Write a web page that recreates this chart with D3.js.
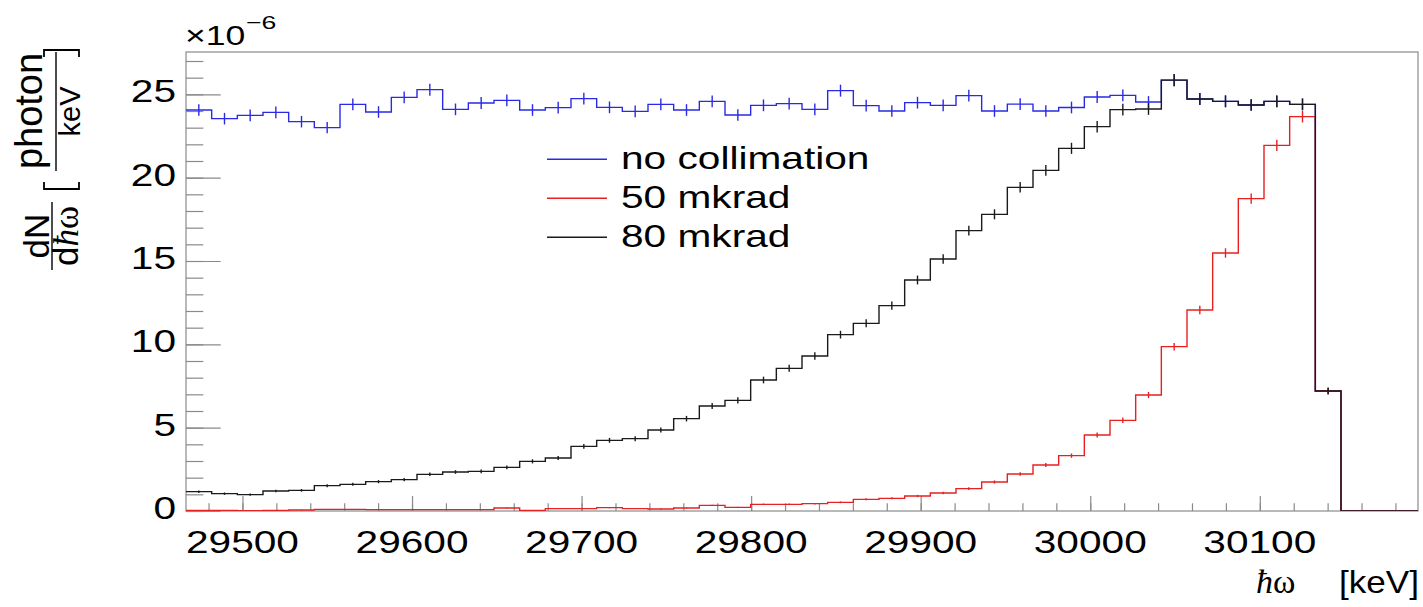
<!DOCTYPE html>
<html>
<head>
<meta charset="utf-8">
<script src="https://cdn.jsdelivr.net/npm/d3@7/dist/d3.min.js"></script>
<style>
  html, body { margin: 0; padding: 0; background: #fff; }
  svg { display: block; }
  text { font-family: "Liberation Sans", Arial, Helvetica, sans-serif; fill: #000; }
</style>
</head>
<body>
<svg id="chart" width="1423" height="607"></svg>
<script>
// ---- data (values in units of 1e-6 photon/keV) ----
const histRange = [29466.7, 30193.3];   // histogram x range [keV]
const nBins = 48;
const noCollimation = [24.06, 23.54, 23.74, 23.92, 23.36, 23.0, 24.4, 23.94, 24.82, 25.28,
  24.1, 24.48, 24.64, 24.06, 24.2, 24.74, 24.22, 23.98, 24.4, 24.06,
  24.58, 23.76, 24.34, 24.44, 24.1, 25.22, 24.32, 24.0, 24.5, 24.34,
  24.92, 24.0, 24.41, 24.0, 24.21, 24.84, 24.94, 24.54, 25.85, 24.72,
  24.58, 24.36, 24.58, 24.4, 7.2, 0, 0, 0];
const mkrad50 = [0.04, 0.04, 0.02, 0.04, 0.06, 0.1, 0.1, 0.08, 0.08, 0.08,
  0.08, 0.08, 0.18, 0.04, 0.14, 0.14, 0.2, 0.14, 0.12, 0.18,
  0.34, 0.22, 0.4, 0.4, 0.44, 0.52, 0.7, 0.76, 0.9, 1.08,
  1.34, 1.74, 2.22, 2.76, 3.32, 4.56, 5.44, 6.96, 9.86, 12.06,
  15.48, 18.74, 21.94, 23.66, 7.2, 0, 0, 0];
const mkrad80 = [1.16, 1.04, 0.98, 1.2, 1.24, 1.52, 1.6, 1.76, 1.88, 2.2,
  2.34, 2.38, 2.62, 2.98, 3.18, 3.88, 4.24, 4.34, 4.86, 5.54,
  6.3, 6.64, 7.86, 8.56, 9.3, 10.58, 11.26, 12.32, 13.86, 15.12,
  16.82, 17.8, 19.42, 20.44, 21.76, 23.06, 24.08, 24.12, 25.85, 24.72,
  24.58, 24.36, 24.58, 24.4, 7.2, 0, 0, 0];
const seriesNames = ["no collimation", "50 mkrad", "80 mkrad"];
const seriesColors = ["#2a2ae6", "#e82020", "#1a1a1a"];
const errScale = 0.0714;                 // statistical error ~ errScale*sqrt(content)
const xTicks = [29500, 29600, 29700, 29800, 29900, 30000, 30100];
const yTicks = [0, 5, 10, 15, 20, 25];
const yMax = 27.54;

// ---- layout ----
const svg = d3.select("#chart");
const L = 186, R = 1418, T = 52, B = 511;
const SX = 1.27; // horizontal stretch of glyphs
const x = d3.scaleLinear().domain(histRange).range([L, R]);
const y = d3.scaleLinear().domain([0, yMax]).range([B, T]);
const binW = (histRange[1] - histRange[0]) / nBins;
const edges = d3.range(nBins + 1).map(i => histRange[0] + i * binW);

const axisColor = "#8a8a8a";

// frame
svg.append("rect").attr("x", L).attr("y", T).attr("width", R - L).attr("height", B - T)
  .attr("fill", "none").attr("stroke", axisColor).attr("stroke-width", 1.2);

// x axis ticks (inside)
const xMinor = d3.range(29480, 30193, 20);
svg.append("g").attr("transform", `translate(0,${B})`)
  .call(d3.axisBottom(x).tickValues(xMinor).tickSize(-7.7).tickFormat(""))
  .call(g => g.select(".domain").remove())
  .call(g => g.selectAll("line").attr("stroke", axisColor).attr("stroke-width", 1.2));
svg.append("g").attr("transform", `translate(0,${B})`)
  .call(d3.axisBottom(x).tickValues(xTicks).tickSize(-15).tickFormat(""))
  .call(g => g.select(".domain").remove())
  .call(g => g.selectAll("line").attr("stroke", axisColor).attr("stroke-width", 1.2));

// y axis ticks (inside)
const yMinor = d3.range(0, 27.5, 1);
svg.append("g").attr("transform", `translate(${L},0)`)
  .call(d3.axisLeft(y).tickValues(yMinor).tickSize(-17.3).tickFormat(""))
  .call(g => g.select(".domain").remove())
  .call(g => g.selectAll("line").attr("stroke", axisColor).attr("stroke-width", 1.2));
svg.append("g").attr("transform", `translate(${L},0)`)
  .call(d3.axisLeft(y).tickValues(yTicks).tickSize(-34.7).tickFormat(""))
  .call(g => g.select(".domain").remove())
  .call(g => g.selectAll("line").attr("stroke", axisColor).attr("stroke-width", 1.2));

// tick labels
function stretchedText(parent, px, py, str, size, anchor, sx) {
  return parent.append("text")
    .attr("transform", `translate(${px},${py}) scale(${sx || SX},1)`)
    .attr("text-anchor", anchor || "start")
    .attr("font-size", size)
    .text(str);
}
xTicks.forEach(v => stretchedText(svg, x(v), 553, String(v), 32, "middle"));
yTicks.forEach(v => stretchedText(svg, 176, y(v) + 8, String(v), 32, "end"));

// x10^-6
stretchedText(svg, 185, 45, "\u00d710", 28, "start");
stretchedText(svg, 246, 28.5, "\u22126", 19, "start", 1.4);

// x title
const xt1 = svg.append("text").attr("x", 1256).attr("y", 593).attr("font-size", 34);
xt1.append("tspan").attr("font-family", "Liberation Serif, serif").attr("font-style", "italic").text("\u0127");
xt1.append("tspan").attr("font-family", "Liberation Serif, serif").text("\u03c9");
svg.append("text").attr("x", 1339).attr("y", 593).attr("font-size", 32)
  .attr("textLength", 80).attr("lengthAdjust", "spacingAndGlyphs").text("[keV]");

// y title (rotated): rotated coords (u,v) -> image (v,-u)
const yt = svg.append("g").attr("transform", "rotate(-90)");
function rt(imgX, imgY, size) {
  return yt.append("text").attr("x", -imgY).attr("y", imgX)
    .attr("text-anchor", "middle").attr("font-size", size);
}
rt(48.5, 236, 35).text("dN");
yt.append("line").attr("x1", -270).attr("x2", -202).attr("y1", 52).attr("y2", 52)
  .attr("stroke", "#000").attr("stroke-width", 1.4);
const den = rt(78, 236, 35);
den.append("tspan").text("d");
den.append("tspan").attr("font-family", "Liberation Serif, serif").attr("font-style", "italic").text("\u0127");
den.append("tspan").attr("font-family", "Liberation Serif, serif").text("\u03c9");
rt(41.5, 111, 38).text("photon");
yt.append("line").attr("x1", -171).attr("x2", -52).attr("y1", 56).attr("y2", 56)
  .attr("stroke", "#000").attr("stroke-width", 1.4);
rt(80, 111.5, 29).text("keV");
// brackets drawn as lines
function bracket(imgY, dir) {
  const x0 = 44, x1 = 79, s = 7 * dir;
  yt.append("path")
    .attr("d", `M${-(imgY - s)},${x0} L${-imgY},${x0} L${-imgY},${x1} L${-(imgY - s)},${x1}`)
    .attr("fill", "none").attr("stroke", "#000").attr("stroke-width", 1.8);
}
bracket(189, 1);
bracket(50, -1);

// histograms
svg.append("clipPath").attr("id", "clip").append("rect")
  .attr("x", L).attr("y", T).attr("width", R - L).attr("height", B - T);
const series = [noCollimation, mkrad50, mkrad80];
series.forEach((vals, si) => {
  const g = svg.append("g").attr("clip-path", "url(#clip)");
  let d = "";
  vals.forEach((v, i) => {
    const x0 = x(edges[i]), x1 = x(edges[i + 1]), yy = y(v);
    d += (i === 0 ? `M${x0},${yy}` : `L${x0},${yy}`) + `L${x1},${yy}`;
  });
  g.append("path").attr("d", d).attr("fill", "none")
    .attr("stroke", seriesColors[si]).attr("stroke-width", 1.4);
  g.selectAll("line.err").data(vals.map((v, i) => ({ v, i })).filter(o => o.v > 0))
    .join("line").attr("class", "err")
    .attr("x1", o => x((edges[o.i] + edges[o.i + 1]) / 2))
    .attr("x2", o => x((edges[o.i] + edges[o.i + 1]) / 2))
    .attr("y1", o => y(o.v - errScale * Math.sqrt(o.v)))
    .attr("y2", o => y(o.v + errScale * Math.sqrt(o.v)))
    .attr("stroke", seriesColors[si]).attr("stroke-width", 1.4);
});

// legend
const legY = [159.3, 198.3, 237.3];
seriesNames.forEach((name, i) => {
  svg.append("line").attr("x1", 547).attr("x2", 607).attr("y1", legY[i]).attr("y2", legY[i])
    .attr("stroke", seriesColors[i]).attr("stroke-width", 1.4);
  stretchedText(svg, 621, legY[i] + 9.5, name, 32, "start");
});
</script>
</body>
</html>
